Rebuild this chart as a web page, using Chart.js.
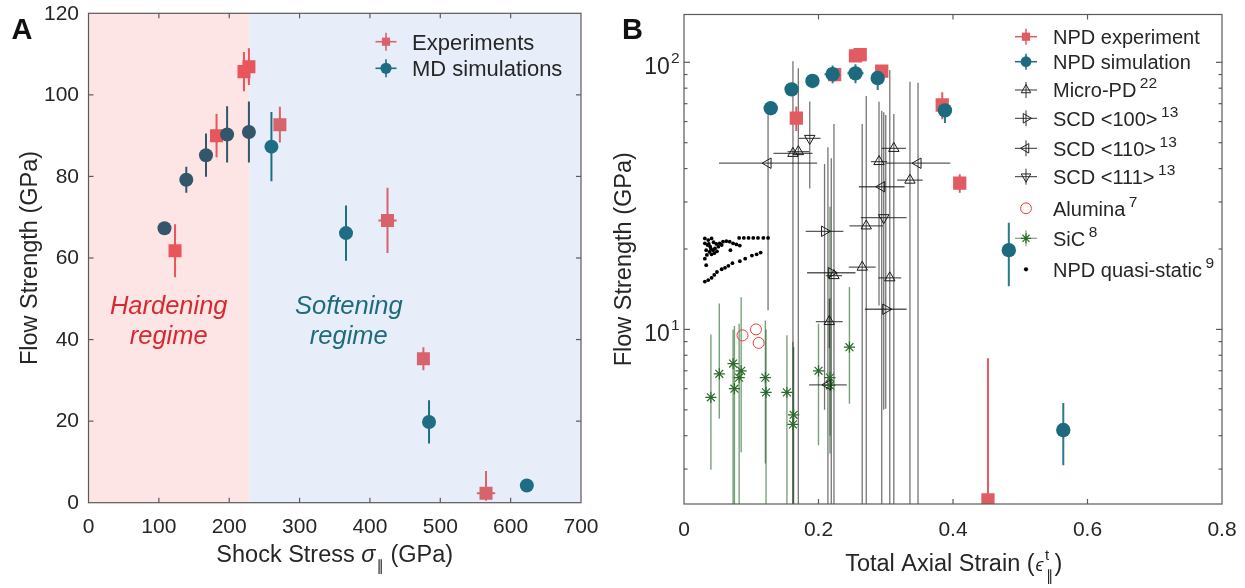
<!DOCTYPE html>
<html>
<head>
<meta charset="utf-8">
<script src="https://cdn.jsdelivr.net/npm/chart.js@4.4.1/dist/chart.umd.min.js"></script>
<style>
  html, body { margin: 0; padding: 0; background: #ffffff; }
  #wrap { position: relative; width: 1245px; height: 588px; }
  #wrap canvas { position: absolute; left: 0; top: 0; }
</style>
</head>
<body>
<div id="wrap">
  <canvas id="chartA" width="1245" height="588"></canvas>
  <canvas id="chartB" width="1245" height="588"></canvas>
</div>
<script>
// ---------- Panel A: flow strength vs shock stress ----------
const expStress      = [123, 182, 221, 228, 272, 425, 476, 565];
const expStressErr   = [3, 3, 3, 3, 3, 13, 3, 13];
const expStrength    = [61.8, 90.0, 105.7, 106.9, 92.7, 69.2, 35.3, 2.3];
const expStrengthErr = [6.5, 5.3, 4.8, 4.5, 4.4, 8.0, 2.8, 5.5];

const mdStress      = [108, 139, 167, 197, 228, 260, 366, 484, 623];
const mdStrength    = [67.3, 79.2, 85.2, 90.3, 90.9, 87.3, 66.1, 19.8, 4.2];
const mdStrengthErr = [1.5, 3.2, 5.3, 6.9, 7.5, 8.5, 6.8, 5.3, 1.1];

const hardeningLimit = 229;                      // GPa
const stressTicks    = [0, 100, 200, 300, 400, 500, 600, 700];
const strengthTicks  = [0, 20, 40, 60, 80, 100, 120];

// ---------- Panel B: flow strength vs total axial strain ----------
const expStrain   = [0.167, 0.224, 0.255, 0.262, 0.294, 0.384, 0.410, 0.452];
const mdStrain    = [0.129, 0.160, 0.191, 0.221, 0.255, 0.288, 0.388, 0.483, 0.564];
const mdStrainErr = [0, 0, 0, 0.012, 0.012, 0, 0, 0, 0];

// Micro-PD (triangle up)
const microX    = [0.162, 0.170, 0.216, 0.223, 0.265, 0.271, 0.290, 0.306, 0.312, 0.336];
const microY    = [45.6, 46.3, 10.7, 15.9, 17.1, 24.4, 42.5, 15.6, 47.6, 36.2];
const microYHi  = [101, 95, 13.0, 58.7, 58.7, 74.8, 71.1, 93.6, 64.0, 84.6];
const microYLo  = [1, 1, 8.5, 1, 1, 1, 12.3, 1, 1, 1];
const microXErr = [0.029, 0.016, 0.020, 0.012, 0.020, 0.025, 0.012, 0.017, 0.018, 0.019];

// SCD <100> (triangle right)
const scd100X    = [0.209, 0.219, 0.300];
const scd100Y    = [23.3, 16.3, 11.9];
const scd100YHi  = [41.6, 43.7, 63.5];
const scd100YLo  = [5.0, 1, 5.05];
const scd100XErr = [0.028, 0.036, 0.031];

// SCD <110> (triangle left)
const scd110X    = [0.125, 0.214, 0.294, 0.348];
const scd110Y    = [41.9, 6.2, 34.2, 41.9];
const scd110YHi  = [65.3, 48.1, 65.9, 83.9];
const scd110YLo  = [11.8, 1, 1, 1];
const scd110XErr = [0.073, 0.028, 0.034, 0.048];

// SCD <111> (triangle down)
const scd111X    = [0.187, 0.297];
const scd111Y    = [51.9, 26.2];
const scd111YHi  = [71.3, 65.0];
const scd111YLo  = [33.7, 5.0];
const scd111XErr = [0.016, 0.034];

// Alumina
const aluminaX = [0.087, 0.107, 0.111];
const aluminaY = [9.5, 10.0, 8.9];

// SiC
const sicX   = [0.040, 0.0525, 0.073, 0.075, 0.082, 0.085, 0.121, 0.122, 0.153, 0.162, 0.163, 0.200, 0.217, 0.217, 0.246];
const sicY   = [5.57, 6.82, 7.45, 6.00, 6.60, 7.00, 6.60, 5.81, 5.81, 4.41, 4.79, 7.00, 6.60, 6.17, 8.58];
const sicYHi = [9.58, 12.5, 10.0, 10.3, 10.5, 13.2, 10.8, 10.0, 9.5, 9.0, 8.6, 10.5, 28.8, 13.1, 14.4];
const sicYLo = [2.98, 4.63, 1, 1, 1, 3.47, 3.15, 1, 1, 1, 1, 3.68, 3.43, 4.0, 5.27];

// NPD quasi-static
const qsX = [0.082, 0.089, 0.096, 0.103, 0.110, 0.118, 0.125,
             0.031, 0.036, 0.041, 0.031, 0.035, 0.039, 0.033, 0.038, 0.043, 0.046, 0.051, 0.056,
             0.058, 0.063, 0.068, 0.073, 0.078, 0.083, 0.049, 0.041, 0.034, 0.069, 0.031, 0.033,
             0.037, 0.044, 0.048, 0.053, 0.040, 0.045,
             0.031, 0.036, 0.041, 0.045, 0.049, 0.056, 0.061, 0.066, 0.072, 0.083, 0.091, 0.101, 0.108, 0.114];
const qsY = [22.0, 22.0, 22.0, 22.0, 22.0, 22.0, 22.0,
             21.9, 21.6, 21.9, 21.0, 20.7, 20.4, 19.8, 19.5, 19.8, 20.1, 20.4, 20.7,
             21.3, 21.4, 21.3, 21.0, 20.8, 20.6, 19.6, 19.1, 19.0, 19.8, 18.4, 17.4,
             20.9, 21.2, 20.9, 21.0, 20.0, 19.3,
             15.1, 15.3, 15.6, 16.0, 16.4, 16.8, 17.0, 17.3, 17.7, 18.0, 18.4, 18.9, 19.1, 19.4];

const strainTicks   = [0, 0.2, 0.4, 0.6, 0.8];
const logMajorTicks = [10, 100];
const logMajorExp   = ['1', '2'];
const logMinorTicks = [3, 4, 5, 6, 7, 8, 9, 20, 30, 40, 50, 60, 70, 80, 90];

// ---------- drawing helpers ----------
const FONT = '"Liberation Sans", Arial, Helvetica, "DejaVu Sans", sans-serif';
const INK  = '#262626';
const AXIS = '#5a5a5a';
const f = (px, style) => (style ? style + ' ' : '') + px + 'px ' + FONT;
const pts = (xs, ys) => xs.map((x, i) => ({ x: x, y: ys[i] }));
// lower end of a symmetric bar, kept positive so it stays drawable on a log axis
const lowerEnd = (vals, errs) => vals.map((v, i) => Math.max(v - errs[i], 0.5));
const upperEnd = (vals, errs) => vals.map((v, i) => v + errs[i]);

const TEAL = '#1f6d82', TEAL_DARK = '#33566a';
const RED = '#d7636c', RED_BRIGHT = '#e8555a';
const TEAL_B = '#1d6a7f', RED_B = '#e05c62';
const TRI_LINE = 'rgba(25,25,25,0.6)';
const SIC = '#2c6a2c', SIC_LINE = 'rgba(40,105,40,0.62)';

function line(ctx, x1, y1, x2, y2) {
  ctx.beginPath(); ctx.moveTo(x1, y1); ctx.lineTo(x2, y2); ctx.stroke();
}

function drawErrorBars(chart, specs) {
  const { ctx, chartArea: a, scales: { x, y } } = chart;
  ctx.save();
  ctx.beginPath(); ctx.rect(a.left, a.top, a.right - a.left, a.bottom - a.top); ctx.clip();
  ctx.lineCap = 'butt';
  for (const s of specs) {
    ctx.lineWidth = s.width;
    for (let i = 0; i < s.xs.length; i++) {
      const px = x.getPixelForValue(s.xs[i]);
      const py = y.getPixelForValue(s.ys[i]);
      const col = typeof s.color === 'function' ? s.color(s.xs[i]) : s.color;
      if (s.yLo) {
        ctx.strokeStyle = col;
        line(ctx, px, y.getPixelForValue(s.yLo[i]), px, y.getPixelForValue(s.yHi[i]));
      }
      if (s.xErr && s.xErr[i] > 0) {
        ctx.strokeStyle = s.hColor || col;
        line(ctx, x.getPixelForValue(s.xs[i] - s.xErr[i]), py, x.getPixelForValue(s.xs[i] + s.xErr[i]), py);
      }
    }
  }
  ctx.restore();
}

function drawFrame(ctx, a) {
  ctx.save();
  ctx.strokeStyle = AXIS; ctx.lineWidth = 1.2;
  ctx.strokeRect(a.left, a.top, a.right - a.left, a.bottom - a.top);
  ctx.restore();
}

function xTickMarks(ctx, a, scale, values, len) {
  ctx.save(); ctx.strokeStyle = AXIS; ctx.lineWidth = 1.2;
  for (const v of values) {
    const p = scale.getPixelForValue(v);
    line(ctx, p, a.bottom, p, a.bottom - len);
    line(ctx, p, a.top, p, a.top + len);
  }
  ctx.restore();
}

function yTickMarks(ctx, a, scale, values, len) {
  ctx.save(); ctx.strokeStyle = AXIS; ctx.lineWidth = 1.2;
  for (const v of values) {
    const p = scale.getPixelForValue(v);
    line(ctx, a.left, p, a.left + len, p);
    line(ctx, a.right, p, a.right - len, p);
  }
  ctx.restore();
}

// text made of runs with their own font and vertical offset
function drawRich(ctx, parts, x, baseline, align) {
  let w = 0;
  for (const p of parts) {
    ctx.font = p.font; p._w = ctx.measureText(p.t).width;
    if (!p.overlay) w += p._w + (p.gap || 0);
  }
  let cx = align === 'center' ? x - w / 2 : (align === 'right' ? x - w : x);
  ctx.textAlign = 'left'; ctx.textBaseline = 'alphabetic';
  for (const p of parts) {
    ctx.font = p.font; ctx.fillStyle = p.color || INK;
    cx += p.gap || 0;
    ctx.fillText(p.t, cx, baseline + (p.dy || 0));
    if (!p.overlay) cx += p._w;
  }
}

function drawYTitle(ctx, text, xBaseline, yCenter, px) {
  ctx.save();
  ctx.translate(xBaseline, yCenter);
  ctx.rotate(-Math.PI / 2);
  ctx.font = f(px); ctx.fillStyle = INK;
  ctx.textAlign = 'center'; ctx.textBaseline = 'alphabetic';
  ctx.fillText(text, 0, 0);
  ctx.restore();
}

function legendMarker(ctx, x, y, o) {
  ctx.save();
  if (o.cross) {
    ctx.strokeStyle = o.crossColor || o.stroke || o.fill; ctx.lineWidth = o.crossWidth || 1.3;
    line(ctx, x - o.cross, y, x + o.cross, y);
    line(ctx, x, y - o.crossV, x, y + o.crossV);
  }
  ctx.fillStyle = o.fill || 'rgba(0,0,0,0)';
  ctx.strokeStyle = o.stroke || o.fill;
  Chart.helpers.drawPoint(ctx, {
    pointStyle: o.style, radius: o.radius, rotation: o.rotation || 0, borderWidth: o.borderWidth || 0
  }, x, y);
  ctx.restore();
}

function panelLetter(ctx, letter, x, baseline) {
  ctx.save();
  ctx.font = f(29, 'bold'); ctx.fillStyle = '#111';
  ctx.textAlign = 'left'; ctx.textBaseline = 'alphabetic';
  ctx.fillText(letter, x, baseline);
  ctx.restore();
}

// ---------- Panel A ----------
const colourA = (x, teal) => teal ? (x < hardeningLimit ? TEAL_DARK : TEAL)
                                  : (x < hardeningLimit ? RED_BRIGHT : RED);

const panelAPlugin = {
  id: 'panelA',
  beforeDatasetsDraw(chart) {
    const { ctx, chartArea: a, scales: { x, y } } = chart;
    const xb = x.getPixelForValue(hardeningLimit);
    ctx.save();
    ctx.fillStyle = '#fde4e5';
    ctx.fillRect(a.left, a.top, xb - a.left, a.bottom - a.top);
    ctx.fillStyle = '#e8eef9';
    ctx.fillRect(xb, a.top, a.right - xb, a.bottom - a.top);

    ctx.textAlign = 'center'; ctx.textBaseline = 'middle';
    ctx.font = f(25.5, 'italic');
    ctx.fillStyle = '#d42a30';
    ctx.fillText('Hardening', x.getPixelForValue(114), y.getPixelForValue(48.1));
    ctx.fillText('regime', x.getPixelForValue(114), y.getPixelForValue(40.7));
    ctx.fillStyle = '#1f6b7b';
    ctx.fillText('Softening', x.getPixelForValue(370), y.getPixelForValue(48.1));
    ctx.fillText('regime', x.getPixelForValue(370), y.getPixelForValue(40.7));
    ctx.restore();

    drawErrorBars(chart, [
      { xs: expStress, ys: expStrength, xErr: expStressErr,
        yLo: lowerEnd(expStrength, expStrengthErr), yHi: upperEnd(expStrength, expStrengthErr),
        color: v => colourA(v, false), width: 2 },
      { xs: mdStress, ys: mdStrength,
        yLo: lowerEnd(mdStrength, mdStrengthErr), yHi: upperEnd(mdStrength, mdStrengthErr),
        color: v => colourA(v, true), width: 2 }
    ]);
  },
  afterDraw(chart) {
    const { ctx, chartArea: a, scales: { x, y } } = chart;
    drawFrame(ctx, a);
    xTickMarks(ctx, a, x, stressTicks.slice(1, -1), 5);
    yTickMarks(ctx, a, y, strengthTicks.slice(1, -1), 5);

    ctx.save();
    ctx.fillStyle = INK; ctx.font = f(21);
    ctx.textAlign = 'center'; ctx.textBaseline = 'alphabetic';
    for (const v of stressTicks) ctx.fillText(String(v), x.getPixelForValue(v), 532.5);
    ctx.textAlign = 'right'; ctx.textBaseline = 'middle';
    for (const v of strengthTicks) ctx.fillText(String(v), a.left - 9.5, y.getPixelForValue(v) + 0.5);
    ctx.restore();

    drawYTitle(ctx, 'Flow Strength (GPa)', 36.5, (a.top + a.bottom) / 2, 23.5);
    drawRich(ctx, [
      { t: 'Shock Stress ', font: f(23.5) },
      { t: 'σ', font: f(23.5, 'italic') },
      { t: '∥', font: f(15), dy: 9.5, gap: 1 },
      { t: ' (GPa)', font: f(23.5) }
    ], (a.left + a.right) / 2, 561.7, 'center');

    // legend
    legendMarker(ctx, 386, 41.7, { style: 'rect', radius: 5.8, fill: RED, cross: 10.5, crossV: 9, crossWidth: 1.6 });
    legendMarker(ctx, 386, 68.3, { style: 'circle', radius: 5.6, fill: TEAL, cross: 10.5, crossV: 9, crossWidth: 1.6 });
    ctx.save();
    ctx.fillStyle = INK; ctx.font = f(22);
    ctx.textAlign = 'left'; ctx.textBaseline = 'alphabetic';
    ctx.fillText('Experiments', 412, 49.5);
    ctx.fillText('MD simulations', 412, 76.1);
    ctx.restore();

    panelLetter(ctx, 'A', 11.5, 39.3);
  }
};

new Chart(document.getElementById('chartA'), {
  type: 'scatter',
  data: {
    datasets: [
      { label: 'MD simulations', data: pts(mdStress, mdStrength),
        pointStyle: 'circle', pointRadius: 7, pointHoverRadius: 7, pointBorderWidth: 0,
        pointBackgroundColor: c => colourA(c.raw ? c.raw.x : 0, true),
        pointBorderColor: c => colourA(c.raw ? c.raw.x : 0, true) },
      { label: 'Experiments', data: pts(expStress, expStrength),
        pointStyle: 'rect', pointRadius: 9.2, pointHoverRadius: 9.2, pointBorderWidth: 0,
        pointBackgroundColor: c => colourA(c.raw ? c.raw.x : 0, false),
        pointBorderColor: c => colourA(c.raw ? c.raw.x : 0, false) }
    ]
  },
  options: {
    responsive: false, animation: false, events: [],
    layout: { padding: { left: 88.5, right: 1245 - 581, top: 13.3, bottom: 588 - 502.7 } },
    scales: {
      x: { type: 'linear', min: 0, max: 700, bounds: 'data', display: false },
      y: { type: 'linear', min: 0, max: 120, bounds: 'data', display: false }
    },
    plugins: { legend: { display: false }, tooltip: { enabled: false } }
  },
  plugins: [panelAPlugin]
});

// ---------- Panel B ----------
const legendRowsB = [
  { label: 'NPD experiment', sup: '', y: 36.7,
    m: { style: 'rect', radius: 5.8, fill: RED_B, cross: 11, crossV: 8, crossWidth: 1.5 } },
  { label: 'NPD simulation', sup: '', y: 61.7,
    m: { style: 'circle', radius: 5.4, fill: TEAL_B, cross: 11, crossV: 8, crossWidth: 1.5 } },
  { label: 'Micro-PD', sup: '22', y: 90,
    m: { style: 'triangle', radius: 5.5, stroke: '#222', borderWidth: 1, cross: 11, crossV: 8, crossColor: '#333', crossWidth: 1 } },
  { label: 'SCD <100>', sup: '13', y: 118.3,
    m: { style: 'triangle', rotation: 90, radius: 5.5, stroke: '#222', borderWidth: 1, cross: 11, crossV: 8, crossColor: '#333', crossWidth: 1 } },
  { label: 'SCD <110>', sup: '13', y: 148.3,
    m: { style: 'triangle', rotation: 270, radius: 5.5, stroke: '#222', borderWidth: 1, cross: 11, crossV: 8, crossColor: '#333', crossWidth: 1 } },
  { label: 'SCD <111>', sup: '13', y: 176.7,
    m: { style: 'triangle', rotation: 180, radius: 5.5, stroke: '#222', borderWidth: 1, cross: 11, crossV: 8, crossColor: '#333', crossWidth: 1 } },
  { label: 'Alumina', sup: '7', y: 208.3,
    m: { style: 'circle', radius: 5.4, stroke: '#f03a3a', borderWidth: 1 } },
  { label: 'SiC', sup: '8', y: 238.3,
    m: { style: 'star', radius: 5, stroke: SIC, borderWidth: 1.1, cross: 11, crossV: 8, crossColor: SIC_LINE, crossWidth: 1.2 } },
  { label: 'NPD quasi-static', sup: '9', y: 269.3,
    m: { style: 'circle', radius: 2.1, fill: '#000' } }
];

const panelBPlugin = {
  id: 'panelB',
  beforeDatasetsDraw(chart) {
    drawErrorBars(chart, [
      { xs: sicX, ys: sicY, yLo: sicYLo, yHi: sicYHi, color: SIC_LINE, width: 1.4 },
      { xs: microX, ys: microY, yLo: microYLo, yHi: microYHi, xErr: microXErr,
        color: TRI_LINE, hColor: 'rgba(20,20,20,0.7)', width: 1.3 },
      { xs: scd100X, ys: scd100Y, yLo: scd100YLo, yHi: scd100YHi, xErr: scd100XErr,
        color: TRI_LINE, hColor: 'rgba(20,20,20,0.7)', width: 1.3 },
      { xs: scd110X, ys: scd110Y, yLo: scd110YLo, yHi: scd110YHi, xErr: scd110XErr,
        color: TRI_LINE, hColor: 'rgba(20,20,20,0.7)', width: 1.3 },
      { xs: scd111X, ys: scd111Y, yLo: scd111YLo, yHi: scd111YHi, xErr: scd111XErr,
        color: TRI_LINE, hColor: 'rgba(20,20,20,0.7)', width: 1.3 },
      { xs: expStrain, ys: expStrength,
        yLo: lowerEnd(expStrength, expStrengthErr), yHi: upperEnd(expStrength, expStrengthErr),
        color: RED_B, width: 2 },
      { xs: mdStrain, ys: mdStrength, xErr: mdStrainErr,
        yLo: lowerEnd(mdStrength, mdStrengthErr), yHi: upperEnd(mdStrength, mdStrengthErr),
        color: '#2a7a8e', width: 2 }
    ]);
  },
  afterDraw(chart) {
    const { ctx, chartArea: a, scales: { x, y } } = chart;
    drawFrame(ctx, a);
    xTickMarks(ctx, a, x, strainTicks.slice(1, -1), 5);
    yTickMarks(ctx, a, y, logMajorTicks, 6);
    yTickMarks(ctx, a, y, logMinorTicks, 3.5);

    ctx.save();
    ctx.fillStyle = INK; ctx.font = f(21);
    ctx.textAlign = 'center'; ctx.textBaseline = 'alphabetic';
    for (const v of strainTicks) ctx.fillText(String(v), x.getPixelForValue(v), 535.5);
    ctx.restore();

    logMajorTicks.forEach((v, i) => {
      const py = y.getPixelForValue(v);
      drawRich(ctx, [
        { t: '10', font: f(23) },
        { t: logMajorExp[i], font: f(15.5), dy: -11, gap: 1 }
      ], a.left - 4.5, py + 11.5, 'right');
    });

    drawYTitle(ctx, 'Flow Strength (GPa)', 631, (a.top + a.bottom) / 2, 23.5);
    drawRich(ctx, [
      { t: 'Total Axial Strain (', font: f(23.5) },
      { t: 'ϵ', font: f(18, 'italic'), gap: 1 },
      { t: 't', font: f(15), dy: -11, gap: 1.5, overlay: true },
      { t: '∥', font: f(15), dy: 10.5, gap: 1 },
      { t: ')', font: f(23.5), gap: 1 }
    ], (a.left + a.right) / 2, 570.5, 'center');

    // legend
    for (const r of legendRowsB) {
      legendMarker(ctx, 1026, r.y, r.m);
      const parts = [{ t: r.label, font: f(20) }];
      if (r.sup) parts.push({ t: r.sup, font: f(15.5), dy: -9, gap: 3.5 });
      drawRich(ctx, parts, 1053, r.y + 7.2, 'left');
    }

    panelLetter(ctx, 'B', 622, 39.3);
  }
};

const triangleSet = (label, xs, ys, rot) => ({
  label: label, data: pts(xs, ys), pointStyle: 'triangle', pointRotation: rot,
  pointRadius: 6, pointHoverRadius: 6, pointBorderWidth: 1,
  pointBackgroundColor: 'rgba(255,255,255,0)', pointBorderColor: '#1a1a1a'
});

new Chart(document.getElementById('chartB'), {
  type: 'scatter',
  data: {
    datasets: [
      { label: 'NPD simulation', data: pts(mdStrain, mdStrength),
        pointStyle: 'circle', pointRadius: 7.2, pointHoverRadius: 7.2, pointBorderWidth: 0,
        pointBackgroundColor: TEAL_B, pointBorderColor: TEAL_B },
      { label: 'NPD experiment', data: pts(expStrain, expStrength),
        pointStyle: 'rect', pointRadius: 9.4, pointHoverRadius: 9.4, pointBorderWidth: 0,
        pointBackgroundColor: RED_B, pointBorderColor: RED_B },
      triangleSet('Micro-PD', microX, microY, 0),
      triangleSet('SCD <100>', scd100X, scd100Y, 90),
      triangleSet('SCD <110>', scd110X, scd110Y, 270),
      triangleSet('SCD <111>', scd111X, scd111Y, 180),
      { label: 'Alumina', data: pts(aluminaX, aluminaY),
        pointStyle: 'circle', pointRadius: 5.5, pointHoverRadius: 5.5, pointBorderWidth: 1,
        pointBackgroundColor: 'rgba(255,255,255,0)', pointBorderColor: '#f03a3a' },
      { label: 'SiC', data: pts(sicX, sicY),
        pointStyle: 'star', pointRadius: 5.6, pointHoverRadius: 5.6, pointBorderWidth: 1.2,
        pointBackgroundColor: SIC, pointBorderColor: SIC },
      { label: 'NPD quasi-static', data: pts(qsX, qsY),
        pointStyle: 'circle', pointRadius: 1.9, pointHoverRadius: 1.9, pointBorderWidth: 0,
        pointBackgroundColor: '#000', pointBorderColor: '#000' }
    ]
  },
  options: {
    responsive: false, animation: false, events: [],
    layout: { padding: { left: 684, right: 1245 - 1222, top: 14.5, bottom: 588 - 504 } },
    scales: {
      x: { type: 'linear', min: 0, max: 0.8, bounds: 'data', display: false },
      y: { type: 'logarithmic', min: 2.22, max: 151, bounds: 'data', display: false }
    },
    plugins: { legend: { display: false }, tooltip: { enabled: false } }
  },
  plugins: [panelBPlugin]
});
</script>
</body>
</html>
